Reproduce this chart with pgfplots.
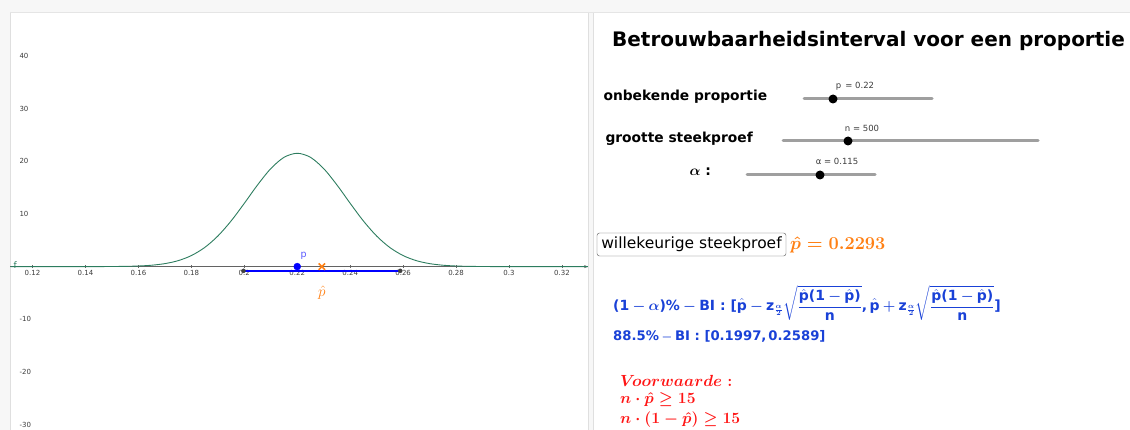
\documentclass[border=0pt]{standalone}
\usepackage{amsmath}
\usepackage{pgfplots}
\pgfplotsset{compat=1.18}
\usetikzlibrary{arrows.meta}
\usepackage{fontspec}
\setmainfont{DejaVu Sans}
\definecolor{ggblue}{RGB}{25,65,215}
\definecolor{gggreen}{RGB}{45,125,95}
\definecolor{ggorange}{RGB}{255,128,20}
\definecolor{ggred}{RGB}{255,20,20}
\definecolor{ggtick}{RGB}{60,60,60}
\newcommand{\sbf}[1]{\text{\bfseries #1}}
\newcommand{\bs}[1]{\boldsymbol{#1}}
\begin{document}
\begin{tikzpicture}[x=1pt,y=-1pt]
\useasboundingbox (0,0) rectangle (1130,430);
\fill[gray!6] (0,0) rectangle (1130,12);
\fill[gray!6] (0,12) rectangle (10,430);
\fill[gray!6] (588,12) rectangle (593,430);
\draw[gray!25] (10,12)--(10,430);
\draw[gray!25] (588,12)--(588,430);
\draw[gray!25] (593,12)--(593,430);
\draw[gray!20] (10,12)--(1130,12);
\begin{axis}[
  at={(10.5pt,-430pt)}, anchor=south west,
  width=577.5pt, height=418pt, scale only axis,
  xmin=0.11168, xmax=0.32983, ymin=-31.05, ymax=48.38,
  axis x line=middle, axis y line=left,
  y axis line style={draw=none},
  x axis line style={ggtick!80, -{Stealth[length=4pt]}},
  xtick={0.12,0.14,...,0.33},
  xticklabels={0.12,0.14,0.16,0.18,0.2,0.22,0.24,0.26,0.28,0.3,0.32},
  ytick={-30,-20,-10,10,20,30,40},
  major tick length=3pt,
  x tick style={ggtick!80},
  y tick style={draw=none},
  tick label style={font=\fontsize{7}{8}\selectfont, text=ggtick},
  xticklabel style={yshift=1pt},
  yticklabel style={anchor=west, xshift=7pt},
  /pgf/number format/assume math mode=true,
  clip=true,
]
\addplot[gggreen, line width=0.9pt, smooth] coordinates {
(0.1117,0) (0.13,0.0002) (0.14,0.0019) (0.145,0.0059) (0.15,0.0171)
(0.155,0.0457) (0.16,0.1136) (0.165,0.2627) (0.17,0.5644) (0.175,1.127)
(0.18,2.094) (0.185,3.615) (0.19,5.803) (0.195,8.663) (0.20,12.023)
(0.205,15.515) (0.21,18.615) (0.215,20.764) (0.22,21.534)
(0.225,20.764) (0.23,18.615) (0.235,15.515) (0.24,12.023) (0.245,8.663)
(0.25,5.803) (0.255,3.615) (0.26,2.094) (0.265,1.127) (0.27,0.5644)
(0.275,0.2627) (0.28,0.1136) (0.285,0.0457) (0.29,0.0171) (0.295,0.0059)
(0.30,0.0019) (0.31,0.0002) (0.3298,0)
};
\addplot[blue, line width=1.5pt] coordinates {(0.1997,-0.8) (0.2589,-0.8)};
\addplot[only marks, mark=*, mark size=2pt, color=darkgray] coordinates {(0.1997,-0.8) (0.2589,-0.8)};
\addplot[only marks, mark=*, mark size=3.5pt, color=blue] coordinates {(0.22,0)};
\addplot[only marks, mark=x, mark size=4.5pt, line width=1.5pt, color=ggorange] coordinates {(0.2293,0)};
\node[text=blue!65, font=\fontsize{9.5}{10}\selectfont] at (axis cs:0.2224,2.1) {p};
\node[text=ggorange, font=\fontsize{14.4}{16}\selectfont, scale=1.05] at (axis cs:0.2293,-5.0) {$\hat{p}$};
\node[text=gggreen, font=\fontsize{9}{10}\selectfont] at (axis cs:0.1135,0.2) {f};
\end{axis}
% right panel
\node[font=\fontsize{20}{24}\selectfont\bfseries] at (868.5,41) {Betrouwbaarheidsinterval voor een proportie};
\node[anchor=west, font=\fontsize{13.8}{16}\selectfont\bfseries] at (600,97) {onbekende proportie};
\node[anchor=west, font=\fontsize{13.8}{16}\selectfont\bfseries] at (602,139) {grootte steekproef};
\node[anchor=west, font=\fontsize{14}{16}\selectfont\bfseries] at (686,172) {{$\bs{\alpha}$ :}};
% sliders
\draw[gray!75, line width=3pt, line cap=round] (804,99)--(932,99);
\fill[black] (833,99) circle (4.5);
\node[text=ggtick, font=\fontsize{8.5}{10}\selectfont] at (855,86) {p\, = 0.22};
\draw[gray!75, line width=3pt, line cap=round] (783,141)--(1038,141);
\fill[black] (848,141) circle (4.5);
\node[text=ggtick, font=\fontsize{8.5}{10}\selectfont] at (862,128) {n = 500};
\draw[gray!75, line width=3pt, line cap=round] (747,175)--(875,175);
\fill[black] (820,175) circle (4.5);
\node[text=ggtick, font=\fontsize{8.5}{10}\selectfont] at (837,161) {α = 0.115};
% button
\draw[rounded corners=2.5pt, gray!70!black, fill=white] (597,233) rectangle (786,256);
\node[font=\fontsize{15.5}{17}\selectfont, inner sep=0pt] at (691.5,244.5) {willekeurige steekproef};
\node[anchor=west, text=ggorange, font=\fontsize{17.28}{19}\selectfont, inner sep=0pt, scale=1.05] at (790,245) {{$\bs{\hat{p}=0.2293}$}};
% formula
\node[anchor=west, text=ggblue, font=\fontsize{14}{16}\selectfont, inner sep=0pt] at (613,303) {{$\displaystyle\sbf{(1} \bs{-} \bs{\alpha}\sbf{)\%} \bs{-} \sbf{BI : [}\hat{\sbf{p}} \bs{-} \sbf{z}_{\frac{\bs{\alpha}}{\bs{2}}}\sqrt{\dfrac{\hat{\sbf{p}}\sbf{(1} \bs{-} \hat{\sbf{p}}\sbf{)}}{\sbf{n}}}\sbf{,}\, \hat{\sbf{p}} \bs{+} \sbf{z}_{\frac{\bs{\alpha}}{\bs{2}}}\sqrt{\dfrac{\hat{\sbf{p}}\sbf{(1} \bs{-} \hat{\sbf{p}}\sbf{)}}{\sbf{n}}}\sbf{]}$}};
\node[anchor=west, text=ggblue, font=\fontsize{13.2}{16}\selectfont, inner sep=0pt] at (613,336) {{$\sbf{88.5\%} \bs{-} \sbf{BI : [0.1997}\sbf{,}\,\sbf{0.2589]}$}};
% condition
\node[anchor=west, text=ggred, font=\fontsize{14.4}{16}\selectfont, inner sep=0pt, scale=1.12] at (620,381) {{$\bs{V\!oorwaarde:}$}};
\node[anchor=west, text=ggred, font=\fontsize{14.4}{16}\selectfont, inner sep=0pt, scale=1.09] at (620,400) {{$\bs{n\cdot\hat{p}\geq 15}$}};
\node[anchor=west, text=ggred, font=\fontsize{14.4}{16}\selectfont, inner sep=0pt, scale=1.09] at (620,420) {{$\bs{n\cdot(1-\hat{p})\geq 15}$}};
\end{tikzpicture}
\end{document}
